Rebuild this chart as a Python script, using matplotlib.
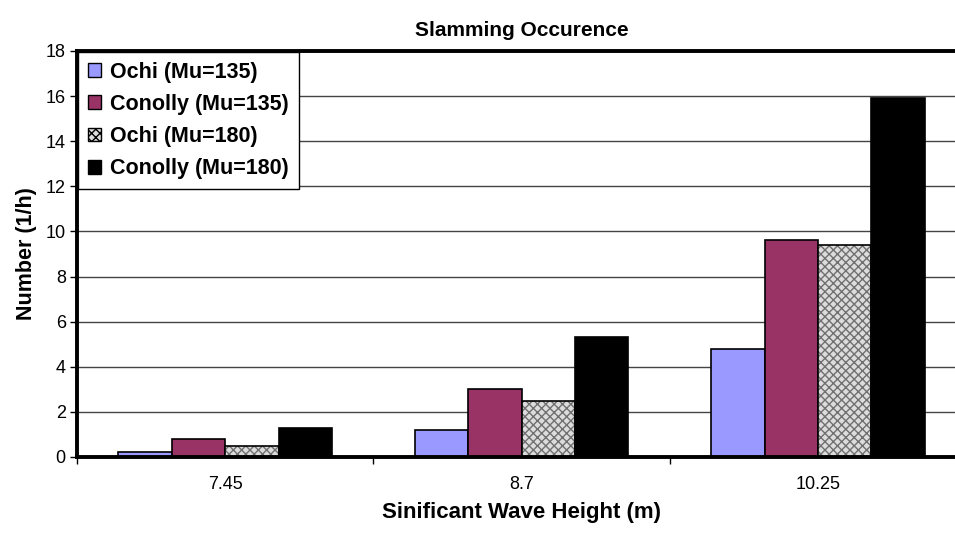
import matplotlib.pyplot as plt
import numpy as np
from matplotlib.patches import Patch

plt.rcParams['font.family'] = ['Liberation Sans', 'DejaVu Sans']

# data
heights = ["7.45", "8.7", "10.25"]
ochi_135 = [0.2, 1.2, 4.8]
conolly_135 = [0.8, 3.0, 9.6]
ochi_180 = [0.5, 2.5, 9.4]
conolly_180 = [1.3, 5.3, 15.9]
labels = ["Ochi (Mu=135)", "Conolly (Mu=135)", "Ochi (Mu=180)", "Conolly (Mu=180)"]

fig = plt.figure(figsize=(9.55, 5.35), dpi=100)
ax = fig.add_axes([0.0806, 0.1458, 0.931, 0.759])

x = np.arange(len(heights))
w = 0.18
ax.set_axisbelow(True)
ax.yaxis.grid(True, color='#444444', linewidth=1)

ax.bar(x - 1.5 * w, ochi_135, w, color='#9999ff', edgecolor='black', linewidth=1.2)
ax.bar(x - 0.5 * w, conolly_135, w, color='#993366', edgecolor='black', linewidth=1.2)
# patterned series: hatch in grey, then a black outline on top
ax.bar(x + 0.5 * w, ochi_180, w, color='#dcdcdc', edgecolor='#707070', hatch='xxxx', linewidth=0)
ax.bar(x + 0.5 * w, ochi_180, w, color='none', edgecolor='black', linewidth=1.2)
ax.bar(x + 1.5 * w, conolly_180, w, color='black', edgecolor='black', linewidth=1.2)

ax.set_xlim(-0.5, 2.5)
ax.set_ylim(0, 18)
ax.set_yticks(range(0, 19, 2))
ax.set_xticks(x)
ax.set_xticklabels(heights)
ax.set_xticks([-0.5, 0.5, 1.5, 2.5], minor=True)
ax.tick_params(axis='x', which='major', length=0, labelsize=13, pad=14)
ax.tick_params(axis='x', which='minor', length=5, width=1)
ax.tick_params(axis='y', length=5, width=1, labelsize=13, pad=3)

for s in ['left', 'top', 'bottom']:
    ax.spines[s].set_linewidth(2.8)
ax.spines['right'].set_visible(False)

ax.set_title("Slamming Occurence", fontsize=15, fontweight='bold', pad=11)
ax.set_xlabel("Sinificant Wave Height (m)", fontsize=16, fontweight='bold', labelpad=6)
ax.set_ylabel("Number (1/h)", fontsize=15.5, fontweight='bold', labelpad=6)

handles = [
    Patch(facecolor='#9999ff', edgecolor='black'),
    Patch(facecolor='#993366', edgecolor='black'),
    Patch(facecolor='#dcdcdc', edgecolor='black', hatch='xxxx'),
    Patch(facecolor='black', edgecolor='black'),
]
leg = ax.legend(handles, labels, loc='upper left', bbox_to_anchor=(0.0, 1.0),
                prop={'weight': 'bold', 'size': 15.5}, frameon=True, fancybox=False,
                edgecolor='black', framealpha=1, borderpad=0.45, labelspacing=0.52,
                handlelength=0.6, handleheight=0.6, handletextpad=0.45, borderaxespad=0.05)
leg.get_frame().set_linewidth(1)

fig.savefig("out.png", dpi=100)
